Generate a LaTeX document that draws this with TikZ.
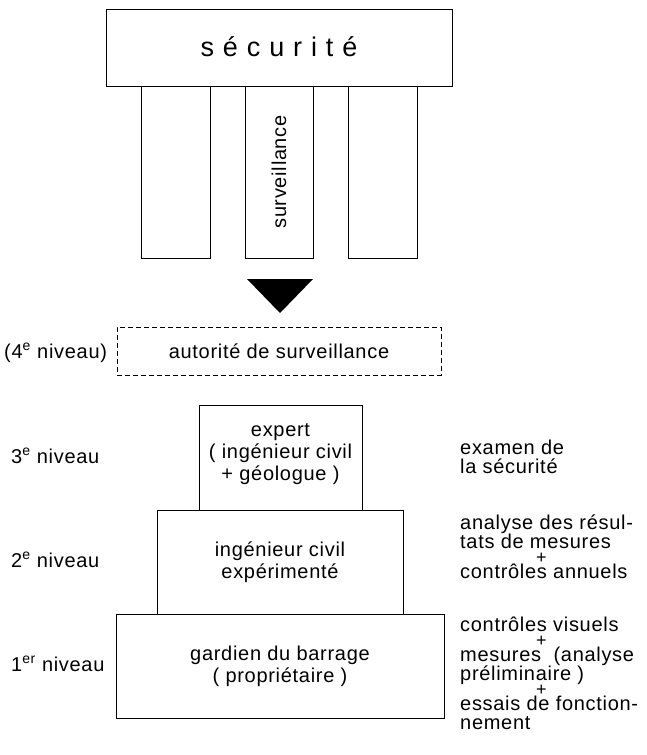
\documentclass[tikz,border=0pt]{standalone}
\usepackage{fontspec}
\setmainfont{Liberation Sans}[LetterSpace=3.5]
\newfontfamily\titlefont{Liberation Sans}[LetterSpace=33]
% centred plus sign between task lines
\newcommand\andsign{\hspace*{76pt}{\fontsize{18}{19}\selectfont +}}
\begin{document}
\begin{tikzpicture}[x=1pt,y=-1pt,
  txt/.style={inner sep=0pt, font=\fontsize{20}{19}\selectfont},
  boxtxt/.style={inner sep=0pt, align=center, font=\fontsize{20}{22}\selectfont},
  frame/.style={draw, line width=1pt, inner sep=0pt},
  note/.style={txt, align=left, anchor=base west},
  lvl/.style={txt, anchor=base west}]
\useasboundingbox (0,0) rectangle (646,755);

% roof and pillars
\node[frame, minimum width=346pt, minimum height=77pt] (roof) at (279,47.5) {};
\node[inner sep=0pt, anchor=base, font=\fontsize{27}{27}\titlefont] (roofname) at (279,56) {sécurité};
\node[frame, minimum width=69pt, minimum height=172pt] (pl) at (175.5,172) {};
\node[frame, minimum width=68pt, minimum height=172pt] (pm) at (279,172) {};
\node[frame, minimum width=69pt, minimum height=172pt] (pr) at (382.5,172) {};
\node[txt, rotate=90] (surv) at (pm) {surveillance};

% arrow head
\fill (247,279) coordinate (ta) -- (313,279) coordinate (tb) -- (280,313) coordinate (tc) -- cycle;

% fourth level
\node[draw, dash pattern=on 5pt off 3pt, line width=0.8pt, minimum width=324pt, minimum height=48pt, inner sep=0pt] (auth) at (279,351) {};
\node[txt] (authname) at (279,351) {autorité de surveillance};
\node[lvl] (l4) at (4,358) {(4\textsuperscript{e} niveau)};

% pyramid
\node[frame, minimum width=163pt, minimum height=105pt] (expert) at (280.5,457.5) {};
\node[boxtxt] (experttxt) at ([yshift=3pt]expert.center) {expert\\( ingénieur civil\\+ géologue )};
\node[frame, minimum width=246pt, minimum height=104pt] (civil) at (280,562) {};
\node[boxtxt] (civiltxt) at (civil) {ingénieur civil\\expérimenté};
\node[frame, minimum width=328pt, minimum height=104pt] (guard) at (280,666) {};
\node[boxtxt] (guardtxt) at (guard) {gardien du barrage\\( propriétaire )};

% level labels
\node[lvl] (l3) at (11,463) {3\textsuperscript{e} niveau};
\node[lvl] (l2) at (11,567) {2\textsuperscript{e} niveau};
\node[lvl] (l1) at (11,671) {1\textsuperscript{er} niveau};

% tasks (anchored on the baseline of their last line)
\node[note] (t3) at (460,473) {examen de\\la sécurité};
\node[note] (t2) at (460,578) {analyse des résul-\\tats de mesures\\[-4pt]
  \andsign\\[-4pt]contrôles annuels};
\node[note] (t1) at (460,729) {contrôles visuels\\[-4pt]
  \andsign\\[-4pt]mesures\ \ (analyse\\préliminaire )\\[-4pt]
  \andsign\\[-4pt]essais de fonction-\\nement};
\end{tikzpicture}
\end{document}
